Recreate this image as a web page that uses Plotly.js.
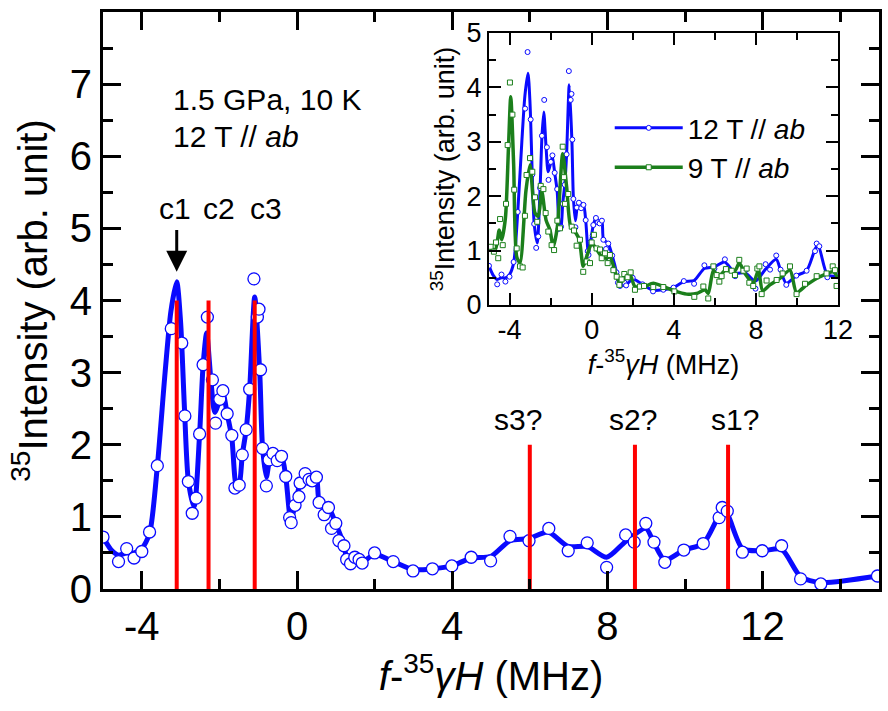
<!DOCTYPE html>
<html>
<head>
<meta charset="utf-8">
<script src="https://cdn.plot.ly/plotly-3.0.1.min.js"></script>
<style>html,body{margin:0;padding:0;background:#fff;}#chart{width:888px;height:711px;}</style>
</head>
<body>
<div id="chart"></div>
<script>
// ---- Main panel: 12 T // ab, measured points ----
const mainX = [-5.0,-4.6,-4.39,-4.2,-4.0,-3.8,-3.6,-3.24,-2.97,-2.89,-2.80,-2.70,-2.60,-2.51,-2.42,-2.31,-2.18,-2.10,-1.99,-1.91,-1.80,-1.68,-1.60,-1.49,-1.41,-1.31,-1.22,-1.11,-1.02,-0.98,-0.94,-0.89,-0.79,-0.72,-0.62,-0.51,-0.40,-0.29,-0.19,-0.15,-0.05,0.05,0.08,0.21,0.31,0.39,0.50,0.57,0.70,0.81,0.89,1.00,1.08,1.21,1.28,1.38,1.49,1.60,1.68,2.0,2.48,2.99,3.49,3.99,4.49,4.99,5.49,5.98,6.49,6.99,7.48,7.98,8.47,8.69,8.99,9.20,9.48,9.97,10.47,10.88,10.96,11.09,11.48,11.99,12.49,12.98,13.5,14.96];
const mainY = [0.72,0.38,0.56,0.43,0.52,0.79,1.71,3.61,3.41,2.40,1.49,1.05,1.26,2.15,3.11,3.77,2.90,2.30,2.63,2.75,2.43,2.13,1.40,1.44,1.86,2.21,2.77,4.30,3.77,3.88,3.04,1.95,1.43,1.79,1.88,1.78,1.84,1.56,0.99,0.92,1.16,1.28,1.47,1.60,1.52,1.50,1.55,1.20,1.03,1.13,0.84,0.91,0.67,0.60,0.41,0.35,0.44,0.41,0.36,0.50,0.38,0.25,0.28,0.32,0.44,0.39,0.73,0.67,0.84,0.53,0.64,0.30,0.75,0.65,0.91,0.65,0.37,0.54,0.63,0.99,1.13,1.08,0.51,0.53,0.60,0.14,0.07,0.18];

// ---- Smoothed guide curve for 12 T // ab ----
const fitX = [-5.0,-4.8,-4.6,-4.4,-4.2,-4.0,-3.8,-3.6,-3.4,-3.25,-3.1,-3.0,-2.9,-2.8,-2.65,-2.51,-2.42,-2.33,-2.22,-2.12,-2.0,-1.91,-1.80,-1.68,-1.56,-1.49,-1.41,-1.31,-1.22,-1.09,-0.96,-0.89,-0.79,-0.71,-0.62,-0.40,-0.29,-0.16,-0.05,0.08,0.21,0.39,0.50,0.58,0.81,1.00,1.21,1.30,1.45,1.68,2.0,2.48,2.99,3.49,3.99,4.49,4.99,5.49,5.98,6.47,6.99,7.48,7.98,8.47,8.99,9.2,9.48,9.97,10.47,10.93,11.05,11.48,11.99,12.49,12.98,13.5,14.96];
const fitY = [0.72,0.55,0.47,0.50,0.50,0.56,0.77,1.70,3.0,3.85,4.26,3.7,2.5,1.5,1.14,2.15,3.1,3.55,2.9,2.45,2.6,2.72,2.43,2.1,1.42,1.45,1.86,2.21,2.77,4.05,3.0,1.98,1.55,1.78,1.88,1.84,1.56,0.96,1.16,1.47,1.60,1.52,1.55,1.20,1.13,0.91,0.60,0.40,0.36,0.37,0.48,0.38,0.27,0.28,0.32,0.43,0.45,0.67,0.70,0.79,0.59,0.59,0.44,0.66,0.84,0.64,0.40,0.54,0.63,1.06,1.08,0.56,0.53,0.55,0.17,0.09,0.18];

// ---- Red marker lines ----
const redX = [-3.1,-2.28,-1.09,6.0,8.71,11.11];
const redTop = [4,4,4,2,2,2];

// ---- Labels ----
const peakLabels = ['c1','c2','c3','s3?','s2?','s1?'];
const peakLabelX = [-3.14,-2.02,-0.79,5.70,8.66,11.29];
const peakLabelY = [5.27,5.27,5.27,2.35,2.35,2.35];

// ---- Tick labels ----
const mainXTicks = [-4,0,4,8,12];
const mainXTickText = ['-4','0','4','8','12'];
const mainYTicks = [0,1,2,3,4,5,6,7];
const mainYTickText = ['0','1','2','3','4','5','6','7'];
const insetXTicks = [-4,0,4,8,12];
const insetXTickText = ['-4','0','4','8','12'];
const insetYTicks = [0,1,2,3,4,5];
const insetYTickText = ['0','1','2','3','4','5'];

// ---- Inset: extra 12 T point only shown in inset ----
const insetExtraX = [-3.12];
const insetExtraY = [4.65];

// ---- Inset: 9 T // ab ----
const nineX = [-4.92,-4.76,-4.66,-4.55,-4.46,-4.33,-4.17,-4.09,-3.98,-3.86,-3.77,-3.65,-3.49,-3.36,-3.25,-3.17,-3.0,-2.89,-2.76,-2.65,-2.48,-2.35,-2.24,-2.11,-1.95,-1.83,-1.67,-1.54,-1.41,-1.35,-1.30,-1.14,-0.97,-0.86,-0.73,-0.57,-0.41,-0.24,-0.08,0.0,0.11,0.24,0.41,0.49,0.65,0.78,0.89,1.06,1.22,1.35,1.46,1.59,1.75,1.90,2.11,2.35,2.55,3.0,3.49,4.03,5.0,5.44,5.68,5.93,6.09,6.22,6.33,6.54,6.82,6.98,7.19,7.39,7.55,7.68,7.87,8.07,8.17,8.28,8.52,9.01,9.30,9.66,9.98,10.39,10.96,11.44,11.74,11.85,11.93];
const nineY = [1.07,0.98,1.15,0.86,1.58,1.10,1.86,2.94,4.09,3.50,2.12,1.04,0.71,0.69,1.64,2.39,2.70,2.45,1.98,1.53,2.19,2.13,1.69,1.35,1.10,1.01,1.55,1.41,2.91,2.35,1.86,2.04,1.44,1.37,1.09,1.20,0.61,0.80,0.77,1.15,1.29,1.04,1.02,0.86,0.95,0.77,0.92,0.64,0.52,0.37,0.47,0.57,0.51,0.60,0.28,0.34,0.35,0.33,0.33,0.25,0.15,0.34,0.12,0.71,0.55,0.43,0.53,0.66,0.63,0.55,0.83,0.63,0.67,0.41,0.35,0.67,0.71,0.20,0.45,0.46,0.58,0.71,0.20,0.39,0.53,0.58,0.71,0.64,0.35];
const nineFitX = [-5.0,-4.7,-4.5,-4.38,-4.2,-4.05,-3.94,-3.8,-3.65,-3.49,-3.2,-3.0,-2.76,-2.6,-2.43,-2.22,-2.03,-1.87,-1.67,-1.41,-1.22,-1.02,-0.76,-0.6,-0.41,-0.24,0.0,0.16,0.49,0.73,0.89,1.22,1.38,1.62,1.87,2.11,2.52,3.0,3.49,4.03,4.63,5.11,5.52,5.68,5.93,6.17,6.49,6.98,7.19,7.47,7.87,8.12,8.33,8.68,9.17,9.66,9.98,10.47,11.12,11.77,12.0];
const nineFitY = [1.07,1.01,1.38,1.2,1.6,2.9,3.83,2.6,0.89,0.77,2.1,2.58,1.69,1.63,2.09,1.56,1.38,1.07,1.44,2.78,2.18,1.44,1.32,1.2,0.71,0.89,1.13,1.07,0.89,0.86,0.89,0.52,0.40,0.52,0.55,0.34,0.33,0.40,0.34,0.26,0.20,0.21,0.28,0.21,0.64,0.52,0.63,0.63,0.77,0.58,0.40,0.64,0.26,0.37,0.49,0.64,0.23,0.37,0.52,0.61,0.49];

const BLUE = '#0a0aff';
const GREEN = '#1b7f1b';
const FONT = 'Liberation Sans, Arial, Helvetica, sans-serif';

// red vertical segments
const rx = [], ry = [];
redX.forEach((v, i) => { rx.push(v, v, null); ry.push(0, redTop[i], null); });

const traces = [
  {x: fitX, y: fitY, mode: 'lines', line: {color: BLUE, width: 5, shape: 'spline', smoothing: 0.7}, showlegend: false, hoverinfo: 'skip', xaxis: 'x', yaxis: 'y'},
  {x: mainX, y: mainY, mode: 'markers', marker: {symbol: 'circle', size: 12, color: '#ffffff', line: {color: BLUE, width: 1.3}}, showlegend: false, xaxis: 'x', yaxis: 'y'},
  {x: rx, y: ry, mode: 'lines', line: {color: '#ff0000', width: 4}, showlegend: false, hoverinfo: 'skip', xaxis: 'x', yaxis: 'y'},
  // inset 12 T
  {x: fitX, y: fitY, mode: 'lines', line: {color: BLUE, width: 3, shape: 'spline', smoothing: 0.7}, showlegend: false, hoverinfo: 'skip', xaxis: 'x2', yaxis: 'y2'},
  {x: mainX.concat(insetExtraX), y: mainY.concat(insetExtraY), mode: 'markers', marker: {symbol: 'circle', size: 5, color: '#ffffff', line: {color: BLUE, width: 1}}, showlegend: false, xaxis: 'x2', yaxis: 'y2'},
  // inset 9 T
  {x: nineFitX, y: nineFitY, mode: 'lines', line: {color: GREEN, width: 3.5, shape: 'spline', smoothing: 0.7}, showlegend: false, hoverinfo: 'skip', xaxis: 'x2', yaxis: 'y2'},
  {x: nineX, y: nineY, mode: 'markers', marker: {symbol: 'square', size: 5, color: '#ffffff', line: {color: GREEN, width: 1}}, showlegend: false, xaxis: 'x2', yaxis: 'y2'},
  // legend entries
  {x: [null], y: [null], name: '12 T // <i>ab</i>', mode: 'lines+markers', line: {color: BLUE, width: 3}, marker: {symbol: 'circle', size: 5, color: '#fff', line: {color: BLUE, width: 1}}, xaxis: 'x2', yaxis: 'y2'},
  {x: [null], y: [null], name: '9 T // <i>ab</i>', mode: 'lines+markers', line: {color: GREEN, width: 3.5}, marker: {symbol: 'square', size: 5, color: '#fff', line: {color: GREEN, width: 1}}, xaxis: 'x2', yaxis: 'y2'}
];

const annotations = [
  {x: -3.25, y: 6.78, xref: 'x', yref: 'y', text: '1.5 GPa, 10 K', showarrow: false, xanchor: 'left', yanchor: 'middle', font: {size: 30, color: '#000'}},
  {x: -3.25, y: 6.28, xref: 'x', yref: 'y', text: '12 T // <i>ab</i>', showarrow: false, xanchor: 'left', yanchor: 'middle', font: {size: 30, color: '#000'}},
  {x: -3.1, y: 4.40, ax: -3.1, ay: 5.0, xref: 'x', yref: 'y', axref: 'x', ayref: 'y', text: '', showarrow: true, arrowhead: 2, arrowsize: 1.4, arrowwidth: 3, arrowcolor: '#000', standoff: 0, startstandoff: 0}
];
peakLabels.forEach((t, i) => annotations.push({x: peakLabelX[i], y: peakLabelY[i], xref: 'x', yref: 'y', text: t, showarrow: false, xanchor: 'center', yanchor: 'middle', font: {size: 30, color: '#000'}}));

const axisCommon = {showline: true, linecolor: '#000', mirror: 'ticks', ticks: 'inside', tickcolor: '#000', showgrid: false, zeroline: false};

const layout = {
  width: 888, height: 711,
  margin: {l: 103, r: 9, t: 12, b: 122},
  paper_bgcolor: '#fff', plot_bgcolor: '#fff',
  font: {family: FONT, color: '#000'},
  showlegend: true,
  legend: {x: 0.653, y: 0.842, xanchor: 'left', yanchor: 'top', bgcolor: 'rgba(0,0,0,0)', font: {size: 28, color: '#000'}, itemwidth: 68, tracegroupgap: 0},
  xaxis: Object.assign({}, axisCommon, {range: [-5, 15], tickmode: 'array', tickvals: mainXTicks, ticktext: mainXTickText, ticklen: 18, tickwidth: 3, linewidth: 3,
    minor: {tickmode: 'linear', tick0: 0, dtick: 2, ticks: 'inside', ticklen: 10, tickwidth: 3, tickcolor: '#000'},
    tickfont: {size: 40}, title: {text: '<i>f</i>-<sup>35</sup><i>γH</i> (MHz)', font: {size: 40}, standoff: 12}}),
  yaxis: Object.assign({}, axisCommon, {range: [0, 8], tickmode: 'array', tickvals: mainYTicks, ticktext: mainYTickText, ticklen: 18, tickwidth: 3, linewidth: 3,
    minor: {tickmode: 'linear', tick0: 0, dtick: 0.5, ticks: 'inside', ticklen: 10, tickwidth: 3, tickcolor: '#000'},
    tickfont: {size: 40}, title: {text: '<sup>35</sup>Intensity (arb. unit)', font: {size: 40}, standoff: 10}}),
  xaxis2: Object.assign({}, axisCommon, {domain: [0.4974, 0.9472], anchor: 'y2', range: [-5, 12], tickmode: 'array', tickvals: insetXTicks, ticktext: insetXTickText, ticklen: 12, tickwidth: 2, linewidth: 2,
    minor: {tickmode: 'linear', tick0: 0, dtick: 2, ticks: 'inside', ticklen: 7, tickwidth: 2, tickcolor: '#000'},
    tickfont: {size: 27}, title: {text: '<i>f</i>-<sup>35</sup><i>γH</i> (MHz)', font: {size: 27}, standoff: 4}}),
  yaxis2: Object.assign({}, axisCommon, {domain: [0.4922, 0.9636], anchor: 'x2', range: [0, 5], tickmode: 'array', tickvals: insetYTicks, ticktext: insetYTickText, ticklen: 12, tickwidth: 2, linewidth: 2,
    minor: {tickmode: 'linear', tick0: 0, dtick: 0.5, ticks: 'inside', ticklen: 7, tickwidth: 2, tickcolor: '#000'},
    tickfont: {size: 27}, title: {text: '<sup>35</sup>Intensity (arb. unit)', font: {size: 27}, standoff: 4}}),
  annotations: annotations
};

Plotly.newPlot('chart', traces, layout, {staticPlot: true, displayModeBar: false});
</script>
</body>
</html>
